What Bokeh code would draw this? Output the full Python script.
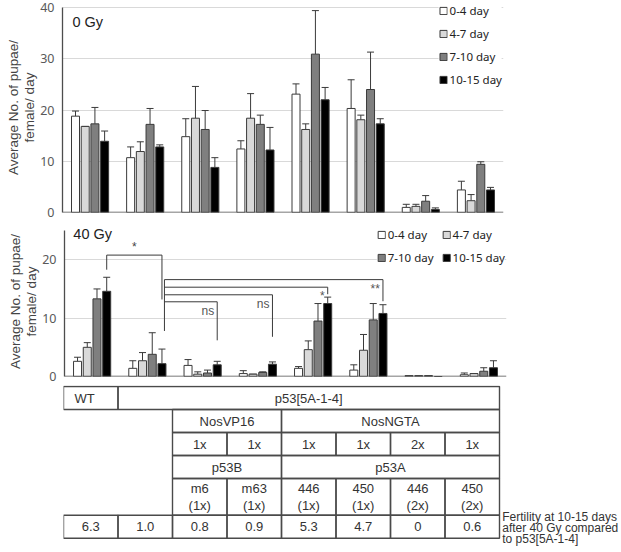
from bokeh.plotting import figure
from bokeh.layouts import column
from bokeh.models import (ColumnDataSource, Range1d, FixedTicker, Whisker, TeeHead,
                          Span, Label, Legend, LegendItem)
from bokeh.embed import file_html
from bokeh.resources import INLINE
from bokeh.core.properties import value

# ---------------- data ----------------
groups = ["WT", "p53[5A-1-4]", "m6 (1x)", "m63 (1x)", "446 (1x)", "450 (1x)", "446 (2x)", "450 (2x)"]
series = ["0-4 day", "4-7 day", "7-10 day", "10-15 day"]
series_colors = ["#ffffff", "#d9d9d9", "#7f7f7f", "#000000"]

# 0 Gy : mean and upper error bar end
gy0_d0_4 = [18.8, 10.7, 14.8, 12.4, 23.1, 20.3, 1.0, 4.4]
gy0_d0_4_err = [19.8, 12.8, 18.3, 14.0, 25.1, 25.9, 1.6, 6.1]
gy0_d4_7 = [16.8, 11.9, 18.4, 18.4, 16.2, 18.1, 1.2, 2.3]
gy0_d4_7_err = [16.8, 13.8, 24.6, 23.2, 17.3, 19.0, 1.6, 3.5]
gy0_d7_10 = [17.3, 17.2, 16.2, 17.2, 30.9, 24.0, 2.2, 9.4]
gy0_d7_10_err = [20.5, 20.3, 19.9, 19.0, 39.4, 31.3, 3.3, 9.9]
gy0_d10_15 = [13.9, 12.8, 8.8, 12.2, 22.0, 17.3, 0.6, 4.4]
gy0_d10_15_err = [15.9, 13.2, 10.7, 16.6, 24.4, 18.3, 0.9, 4.9]

# 40 Gy
gy40_d0_4 = [2.6, 1.4, 1.9, 0.5, 1.4, 1.1, 0.15, 0.3]
gy40_d0_4_err = [3.3, 2.7, 2.9, 1.0, 1.7, 2.0, 0.15, 0.6]
gy40_d4_7 = [5.0, 2.7, 0.4, 0.4, 4.6, 4.5, 0.15, 0.5]
gy40_d4_7_err = [5.8, 4.1, 0.8, 0.4, 6.1, 7.2, 0.15, 0.5]
gy40_d7_10 = [13.3, 3.8, 0.6, 0.7, 9.5, 9.7, 0.15, 0.9]
gy40_d7_10_err = [15.0, 7.5, 1.1, 0.8, 12.5, 12.5, 0.15, 1.5]
gy40_d10_15 = [14.6, 2.2, 2.0, 2.1, 12.5, 10.8, 0.0, 1.5]
gy40_d10_15_err = [17.0, 4.7, 2.6, 2.5, 13.6, 12.3, 0.0, 2.7]

gy0_ticks = [0, 10, 20, 30, 40]
gy40_ticks = [0, 10, 20]

# significance: WT vs p53[5A-1-4]
sig_first = dict(a=0, b=1, top=20.8, a_low=18.3, b_low=13.2, label="*")
# p53[5A-1-4] vs others
sig_ref_group = 1
sig_ref_span = (16.6, 7.8)
sig_targets = [2, 3, 4, 5]
sig_levels = [12.8, 14.0, 15.3, 16.6]
sig_lows = [6.2, 6.8, 14.1, 12.9]
sig_labels = ["ns", "ns", "*", "**"]

# table
table_row0 = [("WT", 0, 1), ("p53[5A-1-4]", 1, 8)]
table_row1 = [("NosVP16", 2, 4), ("NosNGTA", 4, 8)]
table_copies = ["1x", "1x", "1x", "1x", "2x", "1x"]
table_row3 = [("p53B", 2, 4), ("p53A", 4, 8)]
table_constructs = ["m6\n(1x)", "m63\n(1x)", "446\n(1x)", "450\n(1x)", "446\n(2x)", "450\n(2x)"]
fertility = ["6.3", "1.0", "0.8", "0.9", "5.3", "4.7", "0", "0.6"]
fertility_note = "Fertility at 10-15 days\nafter 40 Gy compared\nto p53[5A-1-4]"
row_edges = [0, 1, 2, 3, 4, 5.6, 6.6]

# ---------------- styles ----------------
W = 621
AX = "#4d4d4d"
TICK = "#595959"
TXT = "#333333"
SANS = "Liberation Sans"
UI = "Noto Sans"
PITCH = 0.176
BAR_W = 0.145


def panel(means, errs, y_end, ticks, bound, tag, tag_xy, left, frame_w, height, top_b, bottom_b, legend_cfg):
    p = figure(width=W, height=height, x_range=Range1d(0, len(groups)), y_range=Range1d(0, y_end),
               output_backend="svg", toolbar_location=None, frame_align=False,
               min_border_left=left, min_border_right=W - left - frame_w,
               min_border_top=top_b, min_border_bottom=bottom_b)
    p.outline_line_color = None
    p.xaxis.visible = False
    p.xgrid.visible = False
    p.yaxis.ticker = FixedTicker(ticks=ticks)
    p.yaxis.bounds = (0, bound)
    p.yaxis.axis_line_color = AX
    p.yaxis.axis_line_width = 1.3
    p.yaxis.major_tick_line_color = None
    p.yaxis.major_tick_out = 0
    p.yaxis.major_tick_in = 0
    p.yaxis.minor_tick_line_color = None
    p.yaxis.minor_tick_out = 0
    p.yaxis.major_label_text_font = UI
    p.yaxis.major_label_text_font_size = "12.5px"
    p.yaxis.major_label_text_color = TICK
    p.yaxis.major_label_standoff = 8
    p.yaxis.axis_label = "Average No. of pupae/\nfemale/ day"
    p.yaxis.axis_label_text_font = SANS
    p.yaxis.axis_label_text_font_size = "13.5px"
    p.yaxis.axis_label_text_font_style = "normal"
    p.yaxis.axis_label_text_color = "#444444"
    p.yaxis.axis_label_text_line_height = 1.1
    p.yaxis.axis_label_standoff = 0
    p.ygrid.grid_line_color = "#d9d9d9"
    p.ygrid.grid_line_width = 1

    renderers = []
    for k in range(4):
        xs = [i + 0.5 + (k - 1.5) * PITCH for i in range(len(groups))]
        src = ColumnDataSource(dict(x=xs, top=means[k], err=errs[k]))
        r = p.vbar(x="x", top="top", bottom=0, width=BAR_W, source=src,
                   fill_color=series_colors[k], line_color="#3a3a3a", line_width=1)
        renderers.append(r)
        wh = Whisker(source=src, base="x", lower="top", upper="err",
                     line_color="#3a3a3a", line_width=1,
                     upper_head=TeeHead(size=7, line_color="#3a3a3a", line_width=1),
                     lower_head=None)
        p.add_layout(wh)

    p.add_layout(Span(location=0, dimension="width", line_color=AX, line_width=1.3))
    p.add_layout(Label(x=tag_xy[0], y=tag_xy[1], text=tag, text_font=SANS, text_font_size="14.5px",
                       text_color="#222222", text_baseline="middle"))

    items = [LegendItem(label=s, renderers=[r]) for s, r in zip(series, renderers)]
    leg = Legend(items=items, location="top_right", glyph_width=9, glyph_height=9,
                 label_text_font=UI, label_text_font_size="11.5px", label_text_color="#222222",
                 label_standoff=2, label_height=14, background_fill_color="white",
                 background_fill_alpha=1, border_line_color=None, padding=legend_cfg["padding"],
                 margin=legend_cfg["margin"], spacing=legend_cfg["spacing"],
                 orientation=legend_cfg["orientation"])
    if legend_cfg.get("ncols"):
        leg.ncols = legend_cfg["ncols"]
    p.add_layout(leg)
    return p


top = panel([gy0_d0_4, gy0_d4_7, gy0_d7_10, gy0_d10_15],
            [gy0_d0_4_err, gy0_d4_7_err, gy0_d7_10_err, gy0_d10_15_err],
            40.98, gy0_ticks, 40, "0 Gy", (0.18, 37.1), 62, 441, 222, 2, 10,
            dict(padding=3, margin=1, spacing=8, orientation="vertical"))

bot = panel([gy40_d0_4, gy40_d4_7, gy40_d7_10, gy40_d10_15],
            [gy40_d0_4_err, gy40_d4_7_err, gy40_d7_10_err, gy40_d10_15_err],
            25.7, gy40_ticks, 25, "40 Gy", (0.16, 24.4), 64, 442, 163, 4, 9,
            dict(padding=2, margin=1, spacing=8, orientation="horizontal", ncols=2))

# significance brackets on the 40 Gy panel
black_x = [i + 0.5 + 1.5 * PITCH for i in range(len(groups))]
bxs, bys = [], []
a, b = sig_first["a"], sig_first["b"]
bxs.append([black_x[a], black_x[a], black_x[b], black_x[b]])
bys.append([sig_first["a_low"], sig_first["top"], sig_first["top"], sig_first["b_low"]])
ref_x = black_x[sig_ref_group] + 0.045
bxs.append([ref_x, ref_x])
bys.append(list(sig_ref_span))
for t, lv, lo in zip(sig_targets, sig_levels, sig_lows):
    bxs.append([ref_x, black_x[t], black_x[t]])
    bys.append([lv, lv, lo])
bot.multi_line(xs=bxs, ys=bys, line_color="#3a3a3a", line_width=1)
bot.text(x=[(black_x[a] + black_x[b]) / 2], y=[sig_first["top"]], text=[sig_first["label"]],
         text_align="center", text_baseline="bottom", text_font=value(SANS),
         text_font_size="12px", text_color="#444444", y_offset=-1)
bot.text(x=[black_x[t] for t in sig_targets], y=sig_levels, text=sig_labels,
         text_align="right", text_baseline="top", text_font=value(SANS),
         text_font_size="12px", text_color="#555555", x_offset=-3, y_offset=2)

# ---------------- table ----------------
col_px = 54.5
tab_left = 63
tab_h = 167
tab = figure(width=W, height=tab_h, x_range=Range1d(0, (W - tab_left) / col_px),
             y_range=Range1d((tab_h - 1) / 23.0, -1 / 23.0), output_backend="svg",
             toolbar_location=None, frame_align=False,
             min_border_left=tab_left, min_border_right=0, min_border_top=0, min_border_bottom=0)
tab.outline_line_color = None
tab.axis.visible = False
tab.grid.visible = False

cells = []  # (row, c0, c1, text, align)
for t, c0, c1 in table_row0:
    cells.append((0, c0, c1, t, "left" if t == "WT" else "center"))
for t, c0, c1 in table_row1:
    cells.append((1, c0, c1, t, "center"))
for j, t in enumerate(table_copies):
    cells.append((2, 2 + j, 3 + j, t, "center"))
for t, c0, c1 in table_row3:
    cells.append((3, c0, c1, t, "center"))
for j, t in enumerate(table_constructs):
    cells.append((4, 2 + j, 3 + j, t, "center"))
for j, t in enumerate(fertility):
    cells.append((5, j, j + 1, t, "center"))

tsrc = ColumnDataSource(dict(
    left=[c[1] for c in cells], right=[c[2] for c in cells],
    top=[row_edges[c[0]] for c in cells], bottom=[row_edges[c[0] + 1] for c in cells],
    tx=[(c[1] + 0.2) if c[4] == "left" else (c[1] + c[2]) / 2 for c in cells],
    ty=[(row_edges[c[0]] + row_edges[c[0] + 1]) / 2 for c in cells],
    text=[c[3] for c in cells], align=[c[4] for c in cells]))
tab.quad(left="left", right="right", top="top", bottom="bottom", source=tsrc,
         fill_color=None, line_color="#4a4a4a", line_width=1.4)
tab.text(x="tx", y="ty", text="text", text_align="align", text_baseline="middle", source=tsrc,
         text_font=value(SANS), text_font_size="13px", text_color=TXT, text_line_height=1.12)
tab.text(x=[8.05], y=[(row_edges[5] + row_edges[6]) / 2 + 0.05], text=[fertility_note],
         text_align="left", text_baseline="middle", text_font=value(SANS),
         text_font_size="12px", text_color=TXT, text_line_height=0.8)

layout = column(top, bot, tab, spacing=0)
open("out.html", "w").write(file_html(layout, INLINE))
